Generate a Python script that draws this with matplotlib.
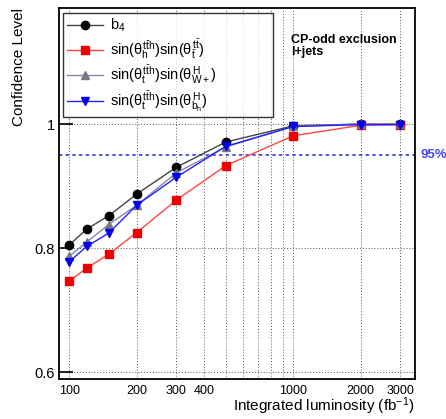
import matplotlib
matplotlib.use("Agg")
import matplotlib.pyplot as plt
import numpy as np
from matplotlib.ticker import FixedLocator, NullLocator, FixedFormatter

plt.rcParams['font.family'] = ['Liberation Sans', 'DejaVu Sans']
plt.rcParams['mathtext.fontset'] = 'custom'
plt.rcParams['mathtext.rm'] = 'Liberation Sans'
plt.rcParams['mathtext.it'] = 'Liberation Sans'
plt.rcParams['mathtext.bf'] = 'Liberation Sans:bold'

lumi = [100, 120, 150, 200, 300, 500, 1000, 2000, 3000]
b4 = [0.805, 0.831, 0.852, 0.887, 0.930, 0.971, 0.997, 1.000, 1.000]
sin_h_t = [0.747, 0.768, 0.790, 0.825, 0.877, 0.933, 0.981, 0.998, 0.999]
sin_t_W = [0.787, 0.810, 0.838, 0.869, 0.921, 0.963, 0.996, 1.000, 1.000]
sin_t_b = [0.778, 0.803, 0.824, 0.869, 0.914, 0.964, 0.996, 0.999, 0.999]

labels = ['b$_4$',
          r'sin($\theta_h^{t\bar{t}h}$)sin($\theta_{\bar{t}}^{t\bar{t}}$)',
          r'sin($\theta_t^{t\bar{t}h}$)sin($\theta_{W+}^{H}$)',
          r'sin($\theta_t^{t\bar{t}h}$)sin($\theta_{b_h}^{H}$)']
xticks = [100, 200, 300, 400, 1000, 2000, 3000]
xgrid = [100, 200, 300, 400, 500, 600, 700, 800, 900, 1000, 2000, 3000]
yticks = [0.6, 0.8, 1.0]
ytick_labels = ['0.6', '0.8', '1']

fig = plt.figure(figsize=(4.46, 4.19), dpi=100)
ax = fig.add_axes([59/446, 1-379/419, 356/446, 371/419])
ax.set_xscale('log')
ax.set_xlim(90, 3500)
ax.set_ylim(0.589, 1.187)

for g in xgrid:
    ax.axvline(g, color='#555555', ls=(0, (1, 2)), lw=0.7, zorder=0)
for g in yticks:
    ax.axhline(g, color='#555555', ls=(0, (1, 2)), lw=0.7, zorder=0)

ax.axhline(0.95, color='#3333ee', ls=(0, (2, 2)), lw=1.2, zorder=1)
ax.text(1.015, 0.95, '95%', transform=ax.get_yaxis_transform(), color='#4444ee',
        fontsize=9.5, fontweight='bold', va='center', ha='left')

series = [
    (b4, '#444444', 'black', 'o', 6),
    (sin_h_t, '#ff4444', '#ee0000', 's', 5.5),
    (sin_t_W, '#8888aa', '#777788', '^', 5.5),
    (sin_t_b, '#2222ff', '#0000ee', 'v', 6),
]
for (vals, lc, mc, mk, ms), lab in zip(series, labels):
    ax.plot(lumi, vals, color=lc, lw=1.0, marker=mk, ms=ms, mfc=mc, mec=mc, label=lab)

ax.xaxis.set_major_locator(FixedLocator(xticks))
ax.xaxis.set_major_formatter(FixedFormatter([str(v) for v in xticks]))
ax.xaxis.set_minor_locator(NullLocator())
ax.yaxis.set_major_locator(FixedLocator(yticks))
ax.yaxis.set_major_formatter(FixedFormatter(ytick_labels))
ax.tick_params(axis='y', direction='in', length=10, width=1.2, labelsize=10.5, pad=3)
ax.tick_params(axis='x', direction='in', length=0, labelsize=9, pad=4)
for s in ax.spines.values():
    s.set_linewidth(1.3)

ax.set_xlabel('Integrated luminosity (fb$^{-1}$)', fontsize=11, loc='right')
ax.xaxis.set_label_coords(1.0, -0.044)
ax.set_ylabel('Confidence Level', fontsize=11, loc='top')
ax.yaxis.set_label_coords(-0.093, 1.0)

leg_h = 98/371
leg = ax.legend(loc='upper left', bbox_to_anchor=(4/356, 1-5/371-leg_h, 210/356, leg_h),
                mode='expand', fontsize=10.5,
                frameon=True, fancybox=False, edgecolor='black', borderaxespad=0,
                handlelength=2.5, labelspacing=0.2, borderpad=0.25, handletextpad=0.5)
leg.get_frame().set_linewidth(1.0)

ax.text(0.652, 0.93, 'CP-odd exclusion\nl+jets', transform=ax.transAxes, fontsize=9,
        fontweight='bold', va='top', ha='left', linespacing=1.0)

fig.savefig('out.png', dpi=100)
